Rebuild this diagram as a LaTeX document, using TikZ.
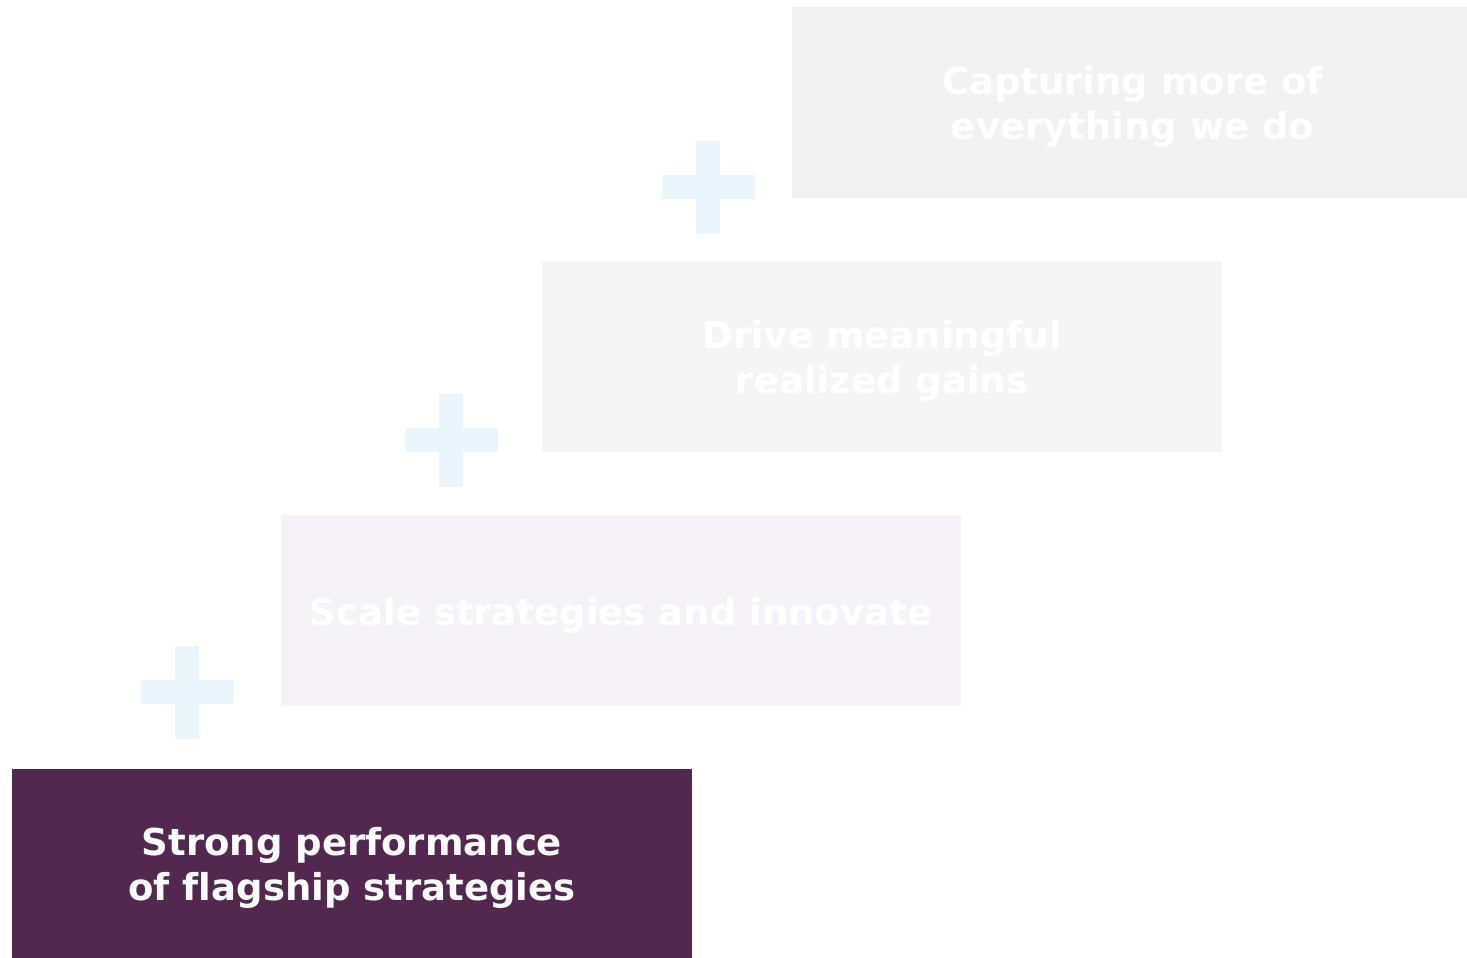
\documentclass[tikz,border=0pt]{standalone}
\usepackage{fontspec}
\setmainfont[Ligatures=NoCommon]{DejaVu Sans}
\definecolor{topbox}{HTML}{F2F2F2}
\definecolor{midbox}{HTML}{F5F5F5}
\definecolor{lowbox}{HTML}{F5F3F7}
\definecolor{purple}{HTML}{53284F}
\definecolor{plusblue}{HTML}{EAF5FC}
\begin{document}
\begin{tikzpicture}[x=1pt,y=-1pt,
  stepbox/.style={minimum width=680pt,minimum height=191pt,inner sep=0pt},
  steptext/.style={inner sep=0pt,align=center,text=white,font=\bfseries\fontsize{37}{45}\selectfont},
  plusbar/.style={fill=plusblue}]
\useasboundingbox (0,0) rectangle (1467,958);
\fill[white] (0,0) rectangle (1467,958);
\node[stepbox,fill=topbox,minimum width=675pt] (s4) at (1129.5,102.5) {};
\node[stepbox,fill=midbox] (s3) at (882,356.5) {};
\node[stepbox,fill=lowbox] (s2) at (621,610.5) {};
\node[stepbox,fill=purple,minimum height=189pt] (s1) at (352,863.5) {};
\node[steptext] (t4) at ([xshift=3pt,yshift=-4.5pt]s4.center) {Capturing more of\\everything we do};
\node[steptext] (t3) at ([yshift=-4.5pt]s3.center) {Drive meaningful\\realized gains};
\node[steptext] (t2) at ([yshift=-4.5pt]s2.center) {Scale strategies and innovate};
\node[steptext] (t1) at ([yshift=-4.5pt]s1.center) {Strong performance\\of flagship strategies};
\foreach \n/\cx/\cy in {p3/708/187,p2/451/440,p1/187/692}{
  \fill[plusbar] (\cx-12,\cy-46.5) rectangle (\cx+12,\cy+46.5);
  \fill[plusbar] (\cx-46.5,\cy-12) rectangle (\cx+46.5,\cy+12);
  \coordinate (\n) at (\cx,\cy);
}
\end{tikzpicture}
\end{document}
